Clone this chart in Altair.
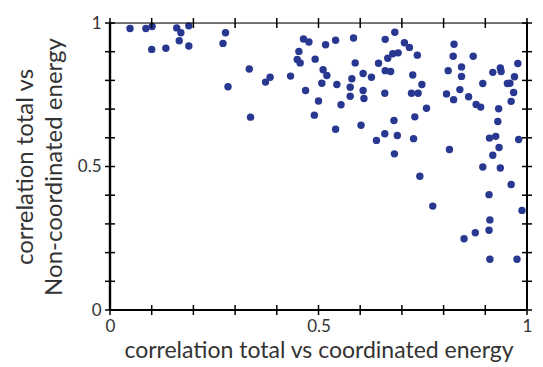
import altair as alt
import pandas as pd

x_vals = [0.048, 0.086, 0.101, 0.100, 0.134, 0.160, 0.170, 0.166, 0.189, 0.189,
          0.277, 0.271, 0.334, 0.283, 0.337, 0.373, 0.384, 0.433, 0.464, 0.477,
          0.453, 0.449, 0.456, 0.492, 0.469, 0.500, 0.490,
          0.517, 0.541, 0.584, 0.511, 0.520, 0.508, 0.544, 0.554, 0.541, 0.588,
          0.580, 0.576, 0.576, 0.607, 0.627, 0.607, 0.609, 0.602, 0.639, 0.660,
          0.683, 0.706, 0.718, 0.737, 0.666, 0.678, 0.691, 0.644, 0.660, 0.673,
          0.726, 0.748, 0.659, 0.723, 0.739, 0.759, 0.731, 0.681, 0.659, 0.689,
          0.728, 0.682, 0.825, 0.823, 0.871, 0.811, 0.843, 0.843, 0.894, 0.839,
          0.807, 0.824, 0.860, 0.878, 0.889, 0.918, 0.936, 0.938, 0.978, 0.970,
          0.953, 0.959, 0.968, 0.962, 0.932, 0.930, 0.910, 0.925, 0.933, 0.980,
          0.918, 0.814,
          0.894, 0.936, 0.743, 0.962, 0.909, 0.774, 0.988, 0.911, 0.909, 0.876,
          0.849, 0.911, 0.976]
y_vals = [0.981, 0.981, 0.988, 0.908, 0.912, 0.983, 0.966, 0.938, 0.990, 0.920,
          0.966, 0.929, 0.840, 0.778, 0.672, 0.794, 0.811, 0.815, 0.944, 0.934,
          0.901, 0.873, 0.861, 0.874, 0.765, 0.728, 0.679,
          0.924, 0.940, 0.948, 0.837, 0.817, 0.790, 0.786, 0.715, 0.630, 0.861,
          0.806, 0.776, 0.745, 0.824, 0.811, 0.765, 0.737, 0.644, 0.591, 0.943,
          0.968, 0.931, 0.915, 0.888, 0.877, 0.893, 0.896, 0.860, 0.834, 0.831,
          0.819, 0.786, 0.755, 0.755, 0.755, 0.703, 0.673, 0.660, 0.614, 0.608,
          0.597, 0.544, 0.926, 0.884, 0.884, 0.834, 0.847, 0.814, 0.789, 0.768,
          0.753, 0.733, 0.743, 0.716, 0.707, 0.828, 0.843, 0.831, 0.859, 0.813,
          0.789, 0.790, 0.758, 0.727, 0.701, 0.657, 0.599, 0.605, 0.566, 0.594,
          0.539, 0.559,
          0.498, 0.495, 0.466, 0.437, 0.402, 0.362, 0.347, 0.314, 0.278, 0.269,
          0.248, 0.177, 0.177]

tick_vals = [0.0, 0.1, 0.2, 0.3, 0.4, 0.5, 0.6, 0.7, 0.8, 0.9, 1.0]
label_vals = [0, 0.5, 1]
frame_lo = [0]
frame_hi = [1]

W, H = 417, 287
TL = 5

df = pd.DataFrame({"x": x_vals, "y": y_vals})
ticks = pd.DataFrame({"t": tick_vals})
lo = pd.DataFrame({"f": frame_lo})
hi = pd.DataFrame({"f": frame_hi})

xs = alt.Scale(domain=[0, 1], nice=False, zero=False)
ys = alt.Scale(domain=[0, 1], nice=False, zero=False)

label_expr = "datum.value == 0 ? '0' : datum.value == 1 ? '1' : '0.5'"

points = alt.Chart(df).mark_circle(size=55, opacity=1, color="#283891").encode(
    x=alt.X("x:Q", scale=xs, title="correlation total vs coordinated energy",
            axis=alt.Axis(values=label_vals, ticks=False, domain=False, grid=False,
                          labelExpr=label_expr,
                          labelFontSize=17, labelColor="#333333", labelPadding=8,
                          labelFont="Lato", titleFont="Lato", titleFontSize=23,
                          titleFontWeight="normal", titleColor="#333333",
                          titlePadding=5, labelFlush=False)),
    y=alt.Y("y:Q", scale=ys, title=["correlation total vs", "Non-coordinated energy"],
            axis=alt.Axis(values=label_vals, ticks=False, domain=False, grid=False,
                          labelExpr=label_expr,
                          labelFontSize=17, labelColor="#333333", labelPadding=9,
                          labelFont="Lato", titleFont="Lato", titleFontSize=24,
                          titleFontWeight="normal", titleColor="#333333",
                          titlePadding=11, labelFlush=False, titleLineHeight=29)),
)

tick_base = alt.Chart(ticks).mark_tick(color="black", thickness=1.5, size=2 * TL, opacity=1)
bottom_t = tick_base.encode(x=alt.X("t:Q", scale=xs), y=alt.value(H))
top_t = tick_base.encode(x=alt.X("t:Q", scale=xs), y=alt.value(0))
left_t = tick_base.encode(y=alt.Y("t:Q", scale=ys), x=alt.value(0))
right_t = tick_base.encode(y=alt.Y("t:Q", scale=ys), x=alt.value(W))

frame_bottom = alt.Chart(lo).mark_tick(color="black", thickness=2, size=W, opacity=1).encode(
    y=alt.Y("f:Q", scale=ys), x=alt.value(W / 2))
frame_top = alt.Chart(hi).mark_tick(color="black", thickness=1.2, size=W, opacity=1).encode(
    y=alt.Y("f:Q", scale=ys), x=alt.value(W / 2))
frame_left = alt.Chart(lo).mark_tick(color="black", thickness=2.4, size=H, opacity=1).encode(
    x=alt.X("f:Q", scale=xs), y=alt.value(H / 2))
frame_right = alt.Chart(hi).mark_tick(color="black", thickness=2, size=H, opacity=1).encode(
    x=alt.X("f:Q", scale=xs), y=alt.value(H / 2))

chart = alt.layer(points, bottom_t, top_t, left_t, right_t,
                  frame_bottom, frame_top, frame_left, frame_right).properties(
    width=W, height=H,
    autosize=alt.AutoSizeParams(type="none"),
    padding={"left": 110, "top": 23, "right": 16, "bottom": 57},
).configure(background="white")

chart.save("out.html", embed_options={"renderer": "svg", "actions": False})
